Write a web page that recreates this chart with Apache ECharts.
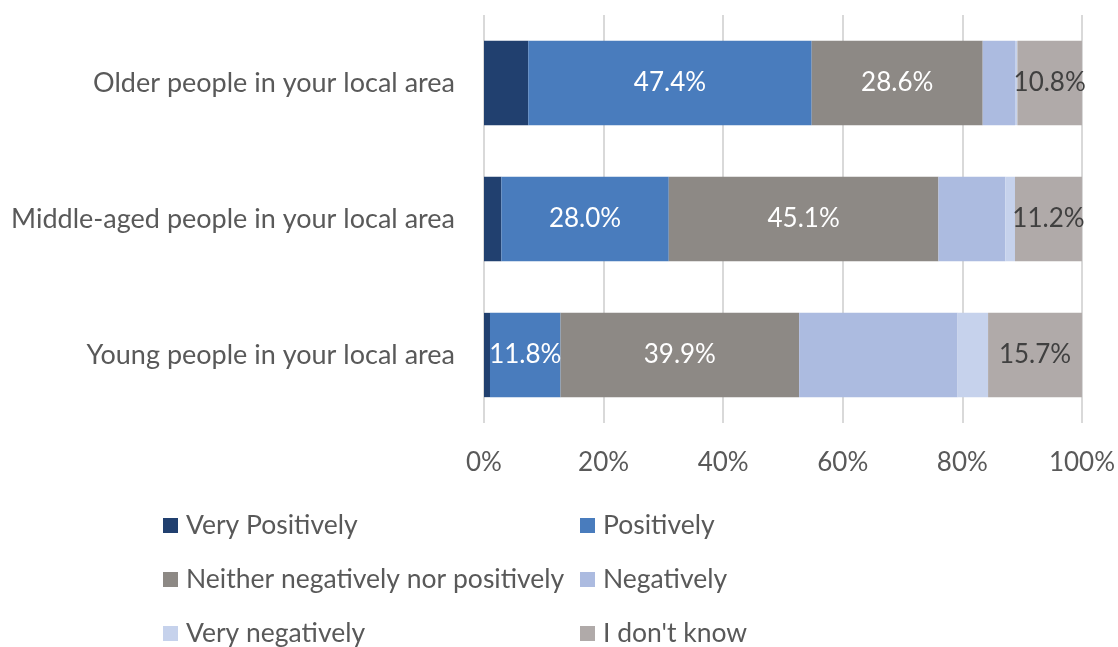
<!DOCTYPE html>
<html>
<head>
<meta charset="utf-8">
<script src="https://cdn.jsdelivr.net/npm/echarts@6/dist/echarts.min.js"></script>
<style>
html,body{margin:0;padding:0;background:#fff;}
#chart{width:1118px;height:647px;}
</style>
</head>
<body>
<div id="chart"></div>
<script>
// Categories bottom-to-top (ECharts category y-axis starts at bottom)
const categories = ['Young people in your local area', 'Middle-aged people in your local area', 'Older people in your local area'];
const seriesNames = ['Very Positively', 'Positively', 'Neither negatively nor positively', 'Negatively', 'Very negatively', "I don't know"];
const veryPositively = [1.0, 2.9, 7.4];
const positively = [11.8, 28.0, 47.4];
const neither = [39.9, 45.1, 28.6];
const negatively = [26.5, 11.2, 5.4];
const veryNegatively = [5.1, 1.6, 0.4];
const dontKnow = [15.7, 11.2, 10.8];
const xTicks = [0, 20, 40, 60, 80, 100];

const colors = ['#21406F', '#497CBD', '#8D8985', '#ACBBE0', '#C6D2EC', '#B0AAA9'];
const values = [veryPositively, positively, neither, negatively, veryNegatively, dontKnow];
const showLabel = [false, true, true, false, false, true];
const labelColor = ['#fff', '#ffffff', '#ffffff', '#fff', '#fff', '#404040'];
const FONT = 'Lato, "Open Sans", sans-serif';

const series = seriesNames.map((name, i) => ({
  name: name,
  type: 'bar',
  stack: 'total',
  barCategoryGap: '38%',
  data: values[i],
  itemStyle: { color: colors[i] },
  label: {
    show: showLabel[i],
    position: 'inside',
    color: labelColor[i],
    fontFamily: FONT,
    fontSize: 26,
    formatter: p => p.value.toFixed(1) + '%'
  },
  emphasis: { disabled: true }
}));

// legend layout: two columns, three rows
const legendLeft = [163, 580];
const legendTop = [512, 566, 620];
const legends = seriesNames.map((name, i) => ({
  data: [name],
  left: legendLeft[i % 2],
  top: legendTop[Math.floor(i / 2)],
  padding: 0,
  itemWidth: 15, itemHeight: 15,
  icon: 'rect',
  selectedMode: false,
  textStyle: { color: '#595959', fontFamily: FONT, fontSize: 26.5, lineHeight: 27, padding: [0, 0, 0, 3] }
}));

const chart = echarts.init(document.getElementById('chart'));
chart.setOption({
  animation: false,
  backgroundColor: '#ffffff',
  grid: { left: 484, right: 35, top: 15, bottom: 224, containLabel: false },
  xAxis: {
    type: 'value',
    min: 0, max: 100, interval: 20,
    axisLine: { show: false },
    axisTick: { show: false },
    splitLine: { show: true, lineStyle: { color: '#D9D9D9', width: 2 } },
    axisLabel: {
      margin: 27,
      color: '#595959',
      fontFamily: FONT,
      fontSize: 26,
      formatter: v => xTicks.includes(v) ? v + '%' : ''
    }
  },
  yAxis: {
    type: 'category',
    data: categories,
    axisLine: { show: false },
    axisTick: { show: false },
    axisLabel: {
      margin: 29,
      color: '#595959',
      fontFamily: FONT,
      fontSize: 27
    }
  },
  legend: legends,
  series: series
});
</script>
</body>
</html>
